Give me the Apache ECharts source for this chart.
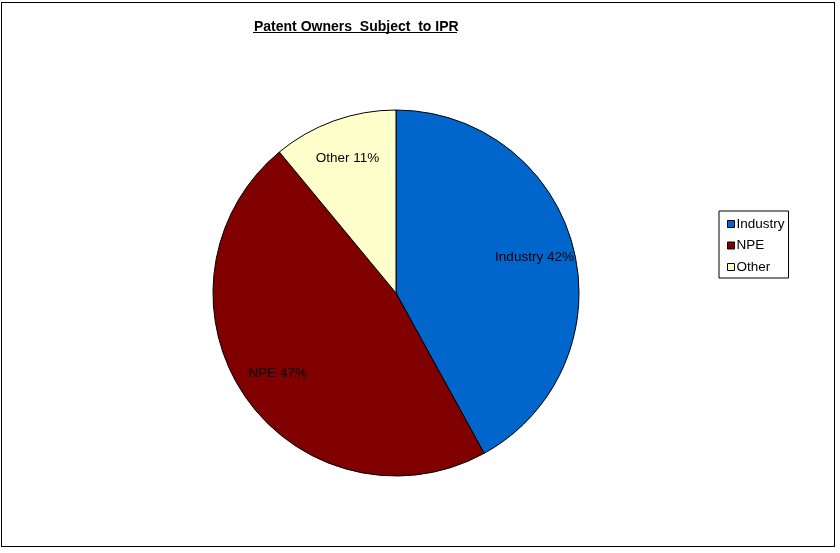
<!DOCTYPE html>
<html>
<head>
<meta charset="utf-8">
<script src="https://cdn.jsdelivr.net/npm/echarts@6/dist/echarts.min.js"></script>
<style>
  html, body { margin: 0; padding: 0; background: #fff; }
  #frame { position: absolute; left: 1px; top: 2px; width: 834px; height: 545px; box-sizing: border-box; border: 1px solid #000; }
  #main { width: 100%; height: 100%; }
</style>
</head>
<body>
<div id="frame"><div id="main"></div></div>
<script>
var titleText = 'Patent Owners  Subject  to IPR';
var owners = ['Industry', 'NPE', 'Other'];
var shares = [42, 47, 11];
var ownerColors = ['#0066CC', '#800000', '#FFFFCC'];

var chartDom = document.getElementById('main');
var myChart = echarts.init(chartDom);

var pieData = owners.map(function (name, i) {
  return { name: name, value: shares[i], itemStyle: { color: ownerColors[i] } };
});
var labelData = owners.map(function (name, i) {
  return { name: name, value: shares[i] };
});

var option = {
  backgroundColor: '#FFF',
  animation: false,
  title: {
    text: titleText,
    left: 252,
    top: 17,
    padding: 0,
    textStyle: { fontFamily: 'Liberation Sans, Arial', fontSize: 14, fontWeight: 'bold', color: '#000' }
  },
  graphic: [
    { type: 'line', shape: { x1: 251, y1: 29.5, x2: 455, y2: 29.5 }, style: { stroke: '#000', lineWidth: 1 } }
  ],
  legend: {
    orient: 'vertical',
    left: 717,
    top: 208,
    data: owners,
    icon: 'rect',
    itemWidth: 7,
    itemHeight: 7,
    itemGap: 7.5,
    padding: [6, 4, 4, 8],
    borderColor: '#000',
    borderWidth: 1,
    selectedMode: false,
    textStyle: { fontFamily: 'Liberation Sans, Arial', fontSize: 13.5, color: '#000', padding: [0, 0, 0, -3] },
    itemStyle: { borderColor: '#000', borderWidth: 1 }
  },
  series: [
    {
      type: 'pie',
      center: [394, 290],
      radius: [0, 183],
      startAngle: 90,
      clockwise: true,
      silent: true,
      label: { show: false },
      labelLine: { show: false },
      itemStyle: { borderColor: '#000', borderWidth: 1 },
      data: pieData
    },
    {
      type: 'pie',
      center: [394, 290],
      radius: [97, 183],
      startAngle: 90,
      clockwise: true,
      silent: true,
      itemStyle: { color: 'transparent', borderWidth: 0 },
      label: {
        show: true,
        position: 'inside',
        formatter: '{b} {c}%',
        fontFamily: 'Liberation Sans, Arial',
        fontSize: 13.5,
        color: '#000'
      },
      labelLine: { show: false },
      data: labelData
    }
  ]
};
option && myChart.setOption(option);
</script>
</body>
</html>
